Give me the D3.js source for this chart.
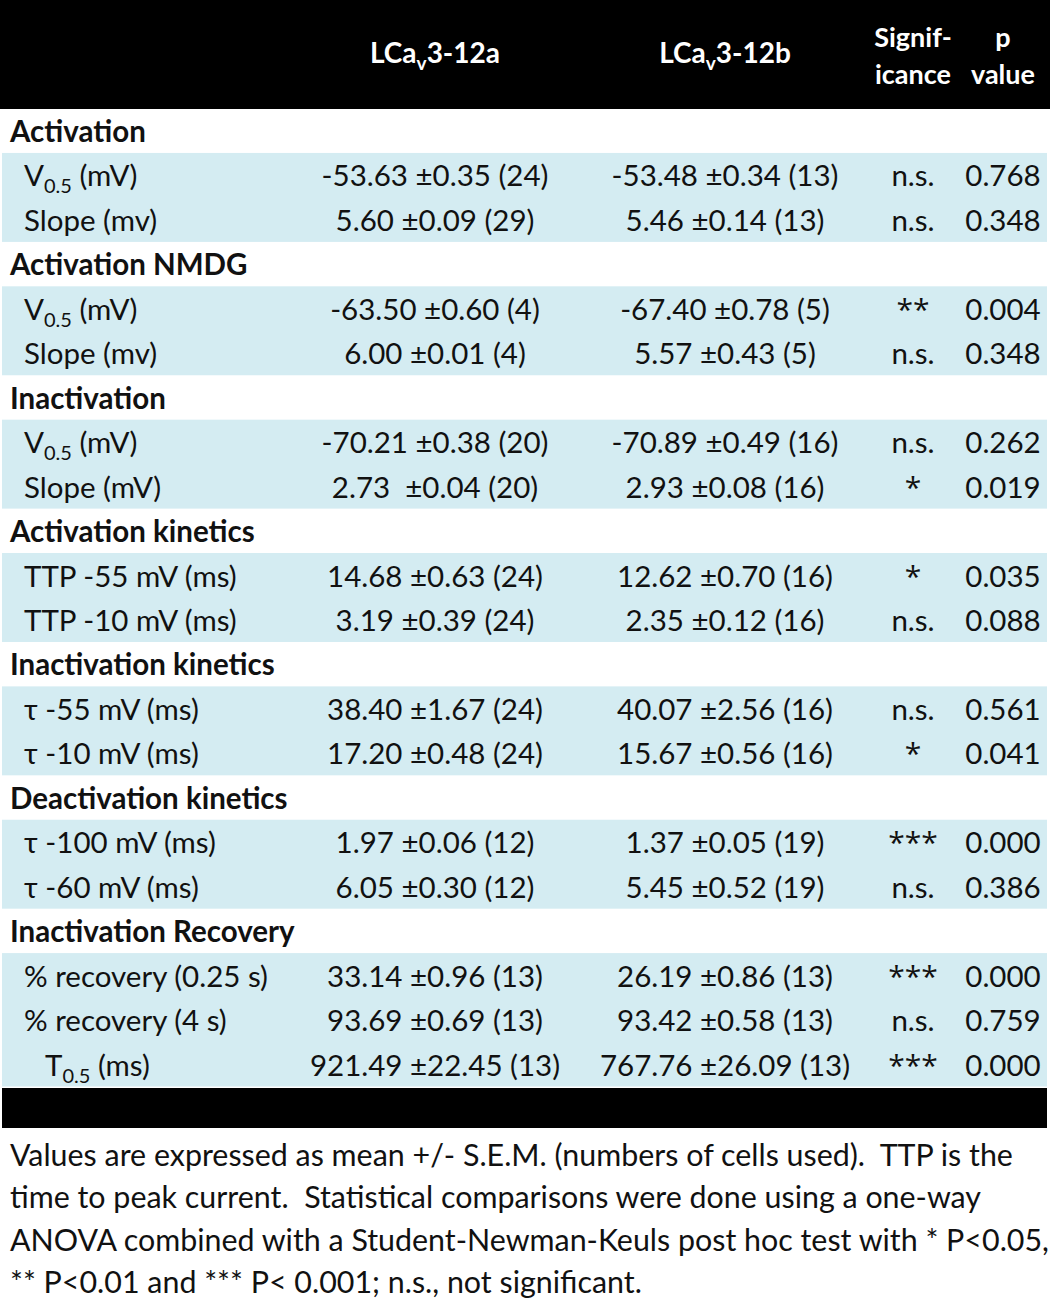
<!DOCTYPE html>
<html><head><meta charset="utf-8">
<script src="https://cdn.jsdelivr.net/npm/d3@7"></script>
<style>body{margin:0;background:#fff}svg{display:block}text{white-space:pre}</style>
</head><body>
<script>
const sections = ["Activation","Activation NMDG","Inactivation","Activation kinetics","Inactivation kinetics","Deactivation kinetics","Inactivation Recovery"];
const sectionSizes = [2,2,2,2,2,2,3];
const rowLabels = ["V_{0.5} (mV)","Slope (mv)","V_{0.5} (mV)","Slope (mv)","V_{0.5} (mV)","Slope (mV)","TTP -55 mV (ms)","TTP -10 mV (ms)","τ -55 mV (ms)","τ -10 mV (ms)","τ -100 mV (ms)","τ -60 mV (ms)","% recovery (0.25 s)","% recovery (4 s)","T_{0.5} (ms)"];
const labelIndent = [0,0,0,0,0,0,0,0,0,0,0,0,0,0,1];
const meanA = [-53.63,5.60,-63.50,6.00,-70.21,2.73,14.68,3.19,38.40,17.20,1.97,6.05,33.14,93.69,921.49];
const semA  = [0.35,0.09,0.60,0.01,0.38,0.04,0.63,0.39,1.67,0.48,0.06,0.30,0.96,0.69,22.45];
const nA    = [24,29,4,4,20,20,24,24,24,24,12,12,13,13,13];
const meanB = [-53.48,5.46,-67.40,5.57,-70.89,2.93,12.62,2.35,40.07,15.67,1.37,5.45,26.19,93.42,767.76];
const semB  = [0.34,0.14,0.78,0.43,0.49,0.08,0.70,0.12,2.56,0.56,0.05,0.52,0.86,0.58,26.09];
const nB    = [13,13,5,5,16,16,16,16,16,16,19,19,13,13,13];
const significance = ["n.s.","n.s.","**","n.s.","n.s.","*","*","n.s.","n.s.","*","***","n.s.","***","n.s.","***"];
const pValues = [0.768,0.348,0.004,0.348,0.262,0.019,0.035,0.088,0.561,0.041,0.000,0.386,0.000,0.759,0.000];
const footnoteLines = [
 "Values are expressed as mean +/- S.E.M. (numbers of cells used).  TTP is the",
 "time to peak current.  Statistical comparisons were done using a one-way",
 "ANOVA combined with a Student-Newman-Keuls post hoc test with * P<0.05,",
 "** P<0.01 and *** P< 0.001; n.s., not significant."
];

const W = 1050, H = 1299;
const FONT = "Lato, 'Open Sans', sans-serif";
const FS = 29.5;
const svg = d3.select("body").append("svg").attr("width", W).attr("height", H)
  .style("font-family", FONT);

// build row list
const rows = [];
let di = 0;
sections.forEach((s, si) => {
  rows.push({type: "section", name: s, si});
  for (let k = 0; k < sectionSizes[si]; k++) { rows.push({type: "data", i: di, si}); di++; }
});

const y = d3.scaleLinear().domain([0, rows.length - 1]).range([131, 1064.5]);
const colX = {label: 10, a: 435, b: 725, sig: 913, p: 1003};

// header
svg.append("rect").attr("x", 0).attr("y", 0).attr("width", W).attr("height", 109).attr("fill", "#000");

// bands
sections.forEach((s, si) => {
  const idx = rows.map((r, j) => (r.type === "data" && r.si === si) ? j : -1).filter(j => j >= 0);
  svg.append("rect").attr("x", 2).attr("width", 1045)
    .attr("y", y(idx[0]) - 22.5).attr("height", y(idx[idx.length-1]) - y(idx[0]) + 44.5)
    .attr("fill", "#d4ecf2");
});

// bottom black band
svg.append("rect").attr("x", 2).attr("y", 1088).attr("width", 1045).attr("height", 40).attr("fill", "#000");

// header texts
function lcav(t, cx, suffix) {
  const tx = t.append("text").attr("x", cx).attr("y", 63).attr("text-anchor", "middle")
    .attr("fill", "#fff").attr("font-weight", "bold").attr("font-size", 28);
  tx.append("tspan").text("LCa");
  tx.append("tspan").attr("dy", 7).attr("font-size", 19).text("v");
  tx.append("tspan").attr("dy", -7).text(suffix);
}
lcav(svg, 435, "3-12a");
lcav(svg, 725, "3-12b");
[["Signif-", 913, 47],["icance", 913, 84],["p", 1003, 47],["value", 1003, 84]].forEach(d => {
  svg.append("text").attr("x", d[1]).attr("y", d[2]).attr("text-anchor", "middle")
    .attr("fill", "#fff").attr("font-weight", "bold").attr("font-size", 27).text(d[0]);
});

function richLabel(sel, str) {
  const parts = str.split(/(_\{[^}]*\})/);
  let sub = false;
  parts.forEach(p => {
    if (!p) return;
    const m = p.match(/^_\{([^}]*)\}$/);
    if (m) {
      sel.append("tspan").attr("dy", 7).attr("font-size", 20).text(m[1]);
      sub = true;
    } else {
      sel.append("tspan").attr("dy", sub ? -7 : 0).text(p);
      sub = false;
    }
  });
}

const fmt = v => v.toFixed(2);
const g = svg.append("g").attr("font-size", FS).attr("fill", "#111");
rows.forEach((r, j) => {
  const yy = y(j) + 11;
  if (r.type === "section") {
    g.append("text").attr("x", colX.label).attr("y", yy).attr("font-weight", "bold").text(r.name);
  } else {
    const i = r.i;
    const lab = g.append("text").attr("x", 24 + labelIndent[i] * 21).attr("y", yy);
    richLabel(lab, rowLabels[i]);
    const sepA = (i === 5) ? "  ±" : " ±";
    g.append("text").attr("x", colX.a).attr("y", yy).attr("text-anchor", "middle")
      .text(fmt(meanA[i]) + sepA + fmt(semA[i]) + " (" + nA[i] + ")");
    g.append("text").attr("x", colX.b).attr("y", yy).attr("text-anchor", "middle")
      .text(fmt(meanB[i]) + " ±" + fmt(semB[i]) + " (" + nB[i] + ")");
    const isStar = significance[i].startsWith("*");
    g.append("text").attr("x", colX.sig).attr("y", yy).attr("text-anchor", "middle")
      .style("font-family", isStar ? "'Open Sans', sans-serif" : null)
      .attr("font-size", isStar ? 30 : null)
      .text(significance[i]);
    g.append("text").attr("x", colX.p).attr("y", yy).attr("text-anchor", "middle")
      .text(pValues[i].toFixed(3));
  }
});

// footnote
const fy = d3.scaleLinear().domain([0, footnoteLines.length - 1]).range([1166, 1293]);
svg.append("g").attr("font-size", 30.4).attr("fill", "#111").selectAll("text")
  .data(footnoteLines).join("text")
  .attr("x", 10).attr("y", (d, i) => fy(i)).text(d => d);
</script>
</body></html>
